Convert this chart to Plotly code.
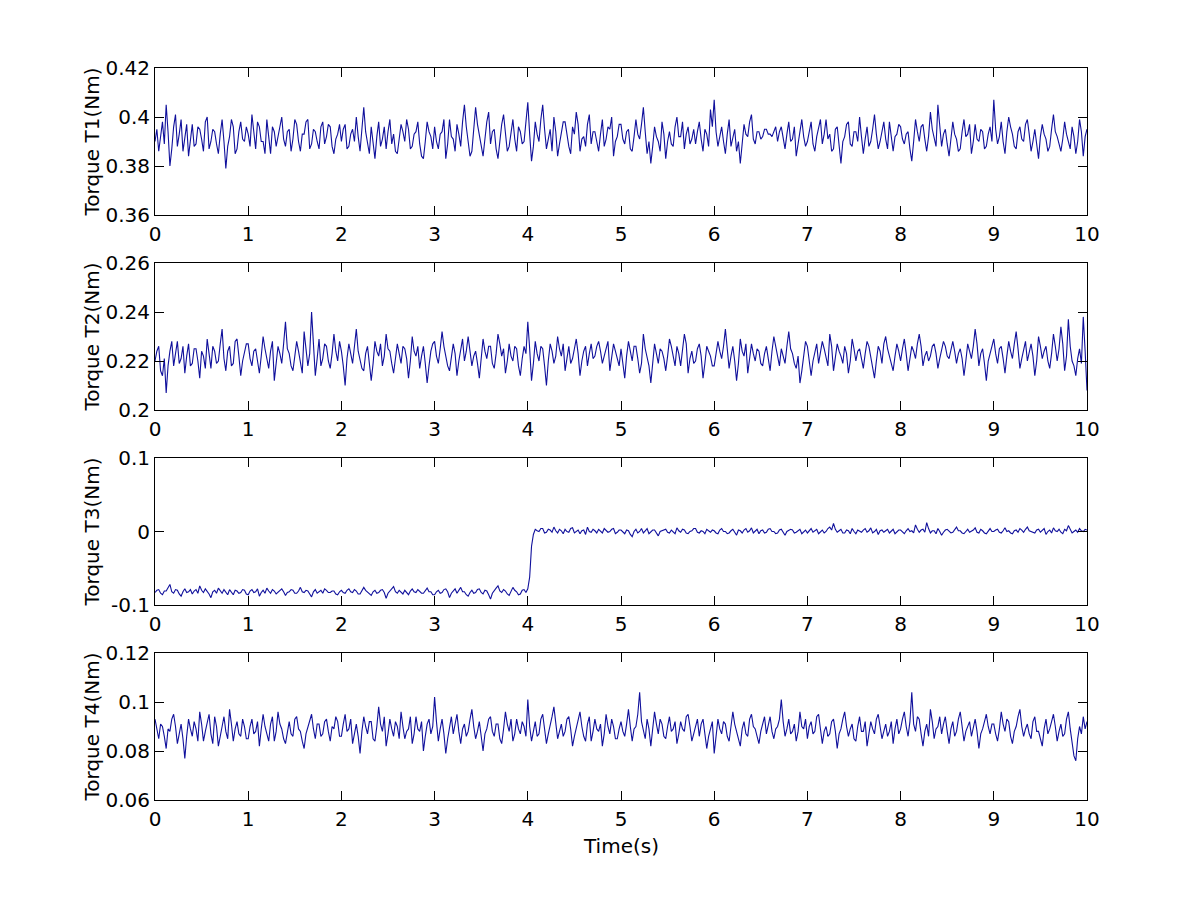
import plotly.graph_objects as go

# sample step of the recorded torques (s)
TIME_STEP = 0.02

# torques, in mNm (one row = one second)
T1_MNM = [
    390, 395, 386, 392, 398, 389, 405, 394, 380, 387, 396, 401, 388, 393, 399, 386, 391, 397, 384, 392, 397, 388, 389, 396, 395,
    391, 386, 398, 400, 387, 390, 395, 394, 389, 385, 393, 399, 390, 379, 388, 392, 399, 396, 385, 387, 394, 398, 391, 390, 396,
    393, 388, 401, 394, 387, 398, 396, 390, 390, 385, 399, 392, 385, 396, 394, 388, 392, 397, 400, 391, 388, 394, 395, 386, 391,
    399, 397, 390, 386, 393, 393, 398, 399, 387, 389, 395, 394, 390, 387, 396, 398, 389, 392, 397, 396, 388, 385, 391, 393, 397,
    390, 395, 397, 387, 388, 393, 395, 390, 400, 392, 386, 395, 404, 394, 389, 385, 396, 390, 383, 392, 398, 388, 391, 396, 387,
    394, 399, 389, 393, 386, 385, 391, 397, 394, 390, 399, 395, 387, 388, 393, 394, 398, 389, 384, 383, 390, 398, 394, 392, 387,
    396, 390, 387, 393, 394, 399, 383, 389, 399, 392, 391, 386, 397, 393, 388, 398, 405, 396, 390, 384, 386, 395, 404, 397, 393,
    388, 384, 391, 398, 402, 389, 394, 395, 387, 383, 390, 397, 401, 392, 386, 388, 394, 399, 391, 386, 396, 394, 389, 390, 398,
    406, 393, 382, 388, 398, 393, 390, 399, 405, 395, 387, 391, 395, 386, 400, 394, 384, 389, 393, 398, 398, 392, 388, 385, 396,
    393, 402, 397, 386, 391, 392, 388, 397, 401, 389, 394, 394, 390, 386, 393, 399, 388, 391, 396, 395, 400, 384, 390, 392, 397,
    397, 391, 389, 394, 395, 387, 386, 392, 399, 393, 391, 397, 404, 394, 385, 390, 381, 388, 396, 392, 390, 386, 398, 393, 383,
    390, 394, 389, 388, 396, 400, 392, 392, 398, 387, 393, 396, 389, 391, 395, 389, 394, 398, 391, 386, 395, 393, 388, 403, 396,
    407, 394, 388, 392, 396, 390, 385, 393, 399, 388, 391, 395, 386, 390, 381, 389, 397, 393, 392, 398, 401, 391, 389, 394, 394,
    391, 392, 395, 395, 393, 393, 392, 394, 396, 390, 394, 396, 391, 387, 393, 398, 390, 391, 396, 384, 389, 395, 399, 392, 388,
    390, 394, 398, 389, 386, 392, 395, 399, 389, 393, 399, 391, 393, 386, 387, 395, 396, 388, 381, 390, 392, 397, 398, 389, 388,
    394, 394, 390, 400, 392, 385, 391, 396, 388, 390, 395, 401, 393, 387, 390, 395, 398, 391, 387, 398, 393, 386, 392, 393, 397,
    396, 391, 389, 393, 394, 387, 382, 390, 399, 394, 390, 396, 397, 391, 386, 392, 402, 395, 392, 388, 405, 396, 388, 393, 395,
    389, 384, 391, 398, 393, 391, 386, 387, 394, 399, 392, 393, 397, 385, 390, 397, 391, 390, 395, 394, 387, 388, 393, 396, 390,
    407, 395, 389, 392, 398, 390, 385, 394, 400, 396, 393, 388, 387, 394, 396, 391, 390, 397, 399, 393, 386, 390, 395, 389, 383,
    392, 397, 393, 391, 386, 388, 395, 401, 394, 392, 389, 386, 391, 398, 393, 390, 387, 396, 392, 385, 390, 399, 394, 384, 392,
    395,
]

T2_MNM = [
    220, 224, 226, 216, 214, 221, 207, 218, 224, 228, 218, 223, 228, 219, 221, 226, 215, 222, 227, 218, 219, 225, 225, 220, 213,
    224, 222, 217, 229, 223, 217, 226, 224, 219, 220, 227, 233, 221, 216, 224, 226, 218, 219, 228, 229, 222, 214, 220, 223, 227,
    227, 221, 218, 224, 225, 219, 215, 222, 230, 225, 221, 217, 224, 228, 212, 220, 226, 223, 219, 227, 236, 225, 223, 218, 216,
    222, 228, 224, 220, 215, 232, 226, 218, 223, 240, 227, 214, 221, 229, 218, 221, 227, 226, 220, 217, 223, 231, 224, 220, 228,
    224, 218, 210, 221, 227, 223, 219, 226, 233, 224, 221, 217, 216, 223, 226, 220, 212, 219, 228, 224, 222, 227, 218, 222, 231,
    225, 224, 219, 215, 221, 227, 223, 219, 226, 225, 221, 213, 220, 230, 224, 222, 226, 217, 222, 226, 219, 211, 218, 224, 227,
    228, 222, 219, 225, 232, 226, 222, 218, 216, 221, 227, 223, 214, 220, 225, 229, 220, 224, 230, 225, 218, 222, 224, 219, 213,
    221, 229, 224, 221, 226, 226, 219, 217, 223, 231, 227, 222, 225, 215, 220, 227, 222, 220, 226, 225, 218, 214, 221, 226, 223,
    236, 225, 212, 219, 228, 223, 220, 226, 225, 218, 210, 220, 227, 224, 219, 222, 230, 225, 222, 227, 216, 221, 226, 219, 221,
    225, 229, 223, 214, 220, 224, 226, 218, 223, 227, 221, 222, 226, 228, 224, 219, 222, 225, 228, 216, 221, 227, 224, 221, 218,
    225, 220, 213, 222, 228, 224, 220, 226, 226, 221, 215, 219, 231, 225, 222, 218, 211, 220, 227, 223, 219, 225, 224, 221, 216,
    222, 229, 226, 221, 218, 226, 223, 218, 224, 231, 227, 215, 221, 224, 219, 220, 225, 227, 222, 213, 219, 226, 224, 222, 218,
    218, 223, 228, 224, 221, 226, 233, 225, 217, 222, 226, 220, 212, 219, 229, 224, 222, 227, 215, 221, 227, 223, 220, 225, 224,
    219, 218, 223, 226, 221, 216, 224, 230, 226, 221, 218, 225, 222, 219, 226, 232, 225, 223, 219, 217, 222, 211, 216, 222, 228,
    226, 221, 214, 220, 224, 227, 219, 223, 228, 225, 221, 218, 231, 226, 216, 222, 227, 224, 222, 219, 226, 223, 215, 220, 229,
    225, 220, 224, 225, 221, 217, 223, 228, 226, 221, 218, 213, 220, 226, 224, 219, 227, 230, 225, 222, 219, 216, 222, 227, 224,
    220, 225, 229, 223, 216, 221, 226, 224, 221, 227, 231, 226, 218, 222, 224, 220, 222, 226, 227, 223, 217, 221, 224, 228, 226,
    222, 221, 225, 228, 224, 219, 223, 225, 221, 214, 220, 227, 224, 221, 226, 233, 227, 218, 223, 225, 219, 212, 220, 223, 226,
    229, 223, 219, 225, 226, 221, 215, 222, 228, 224, 221, 227, 232, 225, 217, 221, 225, 228, 220, 224, 227, 222, 214, 220, 230,
    226, 221, 224, 226, 220, 217, 223, 231, 226, 220, 225, 234, 227, 216, 222, 237, 226, 220, 218, 214, 221, 225, 219, 238, 224,
    208,
]

T3_MNM = [
    -83, -80, -79, -84, -86, -81, -81, -77, -72, -82, -84, -79, -80, -85, -88, -82, -78, -83, -82, -79, -85, -81, -79, -84, -74,
    -80, -83, -78, -81, -85, -90, -82, -80, -84, -77, -81, -84, -79, -82, -86, -79, -83, -86, -80, -81, -84, -83, -79, -80, -85,
    -86, -81, -79, -83, -82, -78, -88, -83, -80, -84, -77, -81, -84, -79, -81, -85, -83, -80, -78, -82, -87, -83, -82, -79, -80,
    -84, -84, -81, -76, -82, -83, -80, -81, -85, -89, -82, -79, -84, -82, -80, -84, -78, -80, -83, -83, -81, -81, -85, -86, -82,
    -80, -83, -84, -80, -78, -82, -83, -79, -81, -85, -85, -81, -76, -80, -82, -85, -87, -82, -80, -84, -83, -80, -79, -83, -91,
    -84, -81, -78, -75, -82, -84, -80, -82, -85, -80, -83, -86, -81, -78, -82, -83, -79, -81, -84, -84, -80, -77, -82, -82, -86,
    -86, -82, -80, -84, -83, -79, -78, -82, -90, -84, -81, -78, -84, -80, -76, -82, -82, -86, -88, -83, -80, -84, -83, -79, -78,
    -83, -85, -80, -81, -86, -92, -84, -80, -77, -74, -81, -83, -79, -81, -85, -87, -82, -76, -80, -82, -86, -85, -80, -79, -83,
    -78, -62, -20, -4, 3, 1, 0, 4, 4, -2, -1, 3, 2, -1, 6, 1, -2, 3, 1, -3, 3, 0, -1, 4, 5,
    -2, 0, 2, -3, 1, 2, -4, 6, 0, -1, 3, 1, -2, 3, 0, -2, 4, 2, -1, 0, 3, 4, -3, -1, 2,
    2, -1, -3, 2, 1, -4, -7, 0, 3, -2, 0, 4, -2, 1, 4, -3, -1, 2, 2, -2, -6, 0, 1, 3, 3,
    -1, -2, 2, 0, -3, 5, 1, -1, 3, 2, -2, -3, 0, 1, 4, 4, -1, -2, 1, 0, -3, 3, 1, -1, 2,
    1, -2, -3, 2, 4, 0, 0, -3, -2, 1, 3, -1, -5, 2, 1, -2, 2, 4, -1, 1, 5, -2, 0, 3, -3,
    1, 2, -2, -1, 3, 4, 0, 0, -3, -2, 2, 3, -1, -5, 0, 1, 3, 2, -2, -1, 1, 3, -3, 0, 2,
    -2, 1, 4, -1, 1, 3, -3, 0, 2, -2, 0, 4, 6, 2, 11, 3, -1, 1, 3, -2, -2, 2, 1, -3, 4,
    0, -3, 2, 0, -1, 2, 4, -1, 1, 5, -2, 0, 3, -4, 1, 2, -1, 1, 3, -2, 0, 3, -3, 0, 2,
    2, -1, -3, 1, 4, 0, 1, -2, 9, 3, -1, 2, 3, -1, 12, 4, -2, 1, 1, -3, 4, 0, -5, -1, 2,
    3, 0, -2, -1, 2, 6, 1, 1, -2, -3, 0, 3, -1, 0, 2, 5, -1, -2, 3, 1, -2, -3, 1, 4, 0,
    0, 2, 3, -1, -2, 1, 5, 0, 1, -2, -3, 1, 2, -1, 4, 2, -1, 3, 6, 1, 0, -2, -2, 2, 3,
    -1, 1, 4, -4, 0, 2, -2, 5, 1, 0, 3, -1, -3, 3, 1, 8, 2, -2, 0, 2, -1, 4, 1, 0, 3,
    2,
]

T4_MNM = [
    93, 88, 85, 91, 90, 86, 81, 89, 88, 93, 95, 90, 83, 87, 91, 85, 77, 86, 93, 89, 86, 92, 89, 84, 96,
    91, 84, 88, 91, 95, 87, 83, 94, 90, 82, 87, 90, 94, 88, 85, 97, 91, 84, 89, 92, 87, 86, 93, 90, 85,
    85, 90, 93, 87, 88, 92, 82, 89, 95, 90, 87, 84, 91, 94, 84, 88, 96, 91, 89, 85, 83, 88, 92, 87, 86,
    93, 94, 89, 88, 84, 81, 87, 90, 93, 95, 89, 85, 91, 91, 86, 87, 92, 93, 88, 84, 90, 89, 94, 92, 86,
    86, 91, 95, 88, 89, 93, 83, 87, 91, 86, 79, 88, 94, 90, 87, 92, 92, 85, 84, 90, 98, 91, 88, 94, 82,
    87, 93, 89, 86, 92, 90, 85, 96, 90, 85, 88, 89, 94, 83, 87, 94, 89, 88, 92, 80, 86, 91, 93, 87, 90,
    102, 92, 84, 89, 93, 87, 79, 85, 90, 94, 87, 91, 95, 88, 83, 89, 91, 86, 88, 93, 97, 90, 85, 88, 92,
    86, 80, 87, 89, 93, 94, 88, 86, 91, 91, 85, 83, 89, 96, 91, 88, 93, 84, 87, 93, 89, 87, 92, 90, 86,
    101, 90, 84, 88, 92, 86, 87, 93, 95, 89, 83, 87, 90, 94, 98, 91, 85, 88, 91, 86, 88, 93, 94, 89, 82,
    86, 89, 92, 96, 90, 86, 84, 91, 94, 84, 88, 93, 89, 88, 91, 82, 87, 95, 90, 87, 93, 90, 85, 85, 89,
    92, 88, 86, 91, 97, 90, 84, 89, 90, 95, 104, 92, 88, 85, 93, 89, 82, 88, 96, 91, 87, 93, 91, 86, 85,
    90, 94, 88, 89, 92, 83, 87, 92, 89, 88, 94, 95, 90, 84, 87, 90, 93, 86, 91, 93, 88, 81, 86, 89, 92,
    79, 87, 93, 89, 87, 92, 91, 86, 84, 90, 96, 91, 88, 85, 82, 89, 92, 87, 86, 93, 95, 90, 89, 86, 83,
    88, 91, 94, 87, 91, 94, 88, 85, 89, 90, 93, 101, 92, 86, 89, 93, 87, 88, 91, 84, 88, 96, 90, 89, 93,
    85, 90, 92, 87, 88, 94, 95, 89, 83, 88, 90, 86, 87, 92, 93, 88, 81, 87, 89, 93, 96, 90, 86, 89, 91,
    85, 84, 90, 94, 88, 88, 92, 82, 87, 92, 89, 87, 93, 95, 90, 85, 88, 91, 86, 88, 92, 83, 89, 93, 87,
    89, 93, 96, 90, 86, 92, 104, 91, 88, 94, 93, 87, 82, 88, 91, 86, 97, 92, 85, 89, 90, 94, 87, 91, 94,
    88, 83, 89, 92, 86, 88, 93, 96, 90, 84, 88, 90, 92, 86, 89, 93, 88, 81, 87, 89, 92, 95, 90, 87, 91,
    91, 87, 84, 89, 96, 91, 88, 93, 92, 86, 83, 88, 90, 94, 97, 90, 86, 89, 91, 87, 85, 92, 94, 88, 88,
    85, 82, 89, 93, 87, 89, 92, 95, 90, 84, 88, 91, 86, 87, 93, 96, 89, 83, 78, 76, 85, 90, 87, 94, 89,
    92,
]

Y_TITLES = ["Torque T1(Nm)", "Torque T2(Nm)", "Torque T3(Nm)", "Torque T4(Nm)"]
Y_TICKS = [
    [0.36, 0.38, 0.40, 0.42],
    [0.20, 0.22, 0.24, 0.26],
    [-0.1, 0.0, 0.1],
    [0.06, 0.08, 0.10, 0.12],
]
Y_TICKTEXT = [
    ["0.36", "0.38", "0.4", "0.42"],
    ["0.2", "0.22", "0.24", "0.26"],
    ["-0.1", "0", "0.1"],
    ["0.06", "0.08", "0.1", "0.12"],
]
X_TICKS = [0, 1, 2, 3, 4, 5, 6, 7, 8, 9, 10]
X_TITLE = "Time(s)"

# the page body adds an 8px margin, so lay out in page pixels minus that
PAGE_OFF = 8
W, H = 1201 - 2 * PAGE_OFF, 900 - 2 * PAGE_OFF
LEFT, RIGHT = 155 - PAGE_OFF, 1087 - PAGE_OFF
PANEL_TOPS = [68 - PAGE_OFF, 263 - PAGE_OFF, 458 - PAGE_OFF, 653 - PAGE_OFF]
PANEL_H = 147
FONT = dict(family="DejaVu Sans", size=20, color="black")

series = [T1_MNM, T2_MNM, T3_MNM, T4_MNM]

fig = go.Figure()
for i, vals in enumerate(series):
    n = i + 1
    t = [k * TIME_STEP for k in range(len(vals))]
    y = [v / 1000 for v in vals]
    fig.add_trace(
        go.Scatter(
            x=t,
            y=y,
            mode="lines",
            line=dict(color="#10109c", width=1.1),
            xaxis=f"x{n}",
            yaxis=f"y{n}",
            showlegend=False,
            hoverinfo="skip",
        )
    )

    top = PANEL_TOPS[i]
    ydom = [1 - (top + PANEL_H) / H, 1 - top / H]
    axis_common = dict(
        showline=True,
        linecolor="black",
        linewidth=1,
        mirror="allticks",
        ticks="inside",
        ticklen=9,
        tickcolor="black",
        tickwidth=1,
        showgrid=False,
        zeroline=False,
        automargin=False,
        tickfont=FONT,
    )
    fig.update_layout(
        {
            f"xaxis{n}": dict(
                axis_common,
                domain=[LEFT / W, RIGHT / W],
                anchor=f"y{n}",
                range=[0, 10],
                tickvals=X_TICKS,
                ticktext=[str(v) for v in X_TICKS],
                ticklabelstandoff=1,
            ),
            f"yaxis{n}": dict(
                axis_common,
                domain=ydom,
                anchor=f"x{n}",
                range=[Y_TICKS[i][0], Y_TICKS[i][-1]],
                tickvals=Y_TICKS[i],
                ticktext=Y_TICKTEXT[i],
                ticklabelstandoff=0,
            ),
        }
    )
    fig.add_annotation(
        text=Y_TITLES[i],
        textangle=-90,
        xref="paper",
        yref="paper",
        x=(91 - PAGE_OFF) / W,
        y=1 - (top + PANEL_H / 2) / H,
        xanchor="center",
        yanchor="middle",
        showarrow=False,
        font=FONT,
    )

fig.add_annotation(
    text=X_TITLE,
    xref="paper",
    yref="paper",
    x=(LEFT + RIGHT) / 2 / W,
    y=1 - (846 - PAGE_OFF) / H,
    xanchor="center",
    yanchor="middle",
    showarrow=False,
    font=FONT,
)

fig.update_layout(
    width=W,
    height=H,
    margin=dict(l=0, r=0, t=0, b=0),
    paper_bgcolor="white",
    plot_bgcolor="white",
    font=FONT,
)

fig.write_html("out.html")
